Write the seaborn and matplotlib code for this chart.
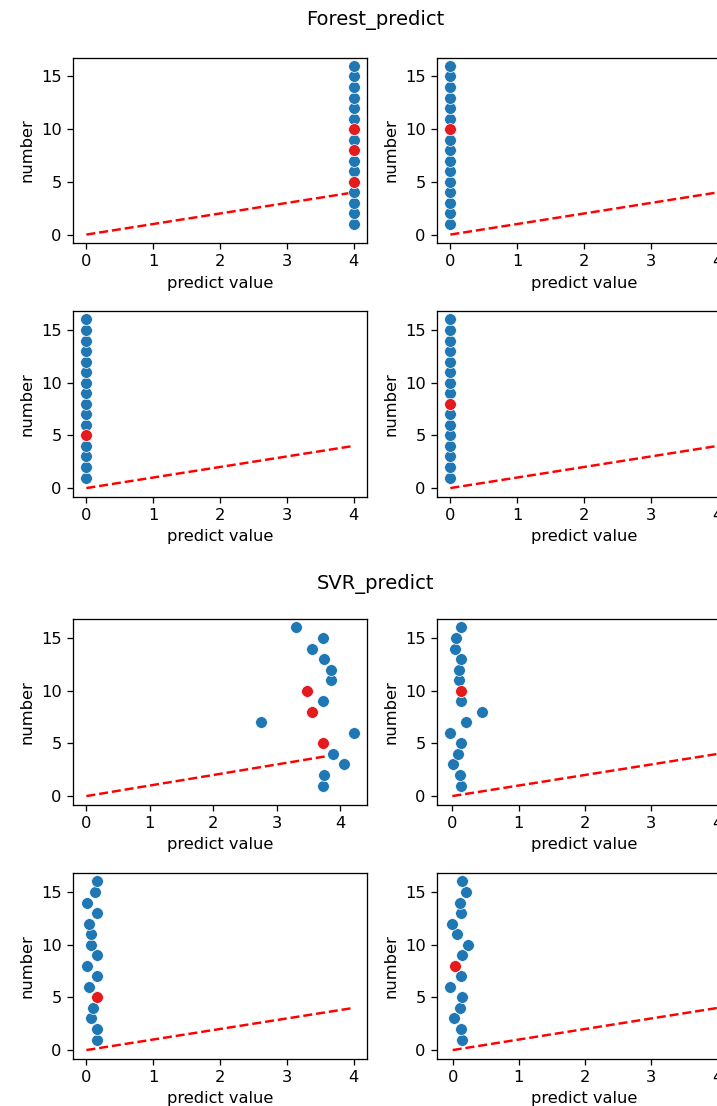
import numpy as np
import pandas as pd
import matplotlib
matplotlib.use("Agg")
import matplotlib.pyplot as plt
import seaborn as sns

numbers = list(range(1, 17))

forest_pred_1 = [4.0] * 16
forest_pred_2 = [0.0] * 16
forest_pred_3 = [0.0] * 16
forest_pred_4 = [0.0] * 16

svr_pred_1 = [3.73, 3.75, 4.06, 3.88, 3.73, 4.21, 2.75, 3.56,
              3.73, 3.48, 3.86, 3.86, 3.75, 3.56, 3.73, 3.31]
svr_pred_2 = [0.126, 0.116, 0.005, 0.08, 0.126, -0.03, 0.207, 0.449,
              0.126, 0.126, 0.096, 0.096, 0.13, 0.045, 0.06, 0.126]
svr_pred_3 = [0.16, 0.16, 0.065, 0.105, 0.16, 0.035, 0.16, 0.01,
              0.16, 0.065, 0.065, 0.035, 0.16, 0.01, 0.13, 0.16]
svr_pred_4 = [0.146, 0.131, 0.02, 0.111, 0.146, -0.035, 0.126, 0.04,
              0.146, 0.237, 0.06, -0.015, 0.126, 0.111, 0.207, 0.141]

highlight_1 = [5, 8, 10]
highlight_2 = [10]
highlight_3 = [5]
highlight_4 = [8]

line_x = [0, 4]
line_y = [0, 4]

titles = ["Forest_predict", "SVR_predict"]
groups = [
    [forest_pred_1, forest_pred_2, forest_pred_3, forest_pred_4],
    [svr_pred_1, svr_pred_2, svr_pred_3, svr_pred_4],
]
highlights = [highlight_1, highlight_2, highlight_3, highlight_4]

f = 1.17
plt.rcParams.update({
    "font.size": 10 * f,
    "axes.labelsize": 10 * f,
    "xtick.labelsize": 10 * f,
    "ytick.labelsize": 10 * f,
    "xtick.major.size": 3.5 * f,
    "ytick.major.size": 3.5 * f,
    "xtick.major.width": 0.8 * f,
    "ytick.major.width": 0.8 * f,
    "xtick.major.pad": 3.5 * f,
    "ytick.major.pad": 3.5 * f,
    "axes.linewidth": 0.8 * f,
    "axes.labelpad": 4 * f,
})

W, H = 717, 1106
fig = plt.figure(figsize=(W / 100, H / 100), dpi=100)

col_lefts = [73, 437]
row_tops = [57.5, 311, 619, 873]
aw, ah = 294, 185.5
title_y = [20, 584]

for g, (title, preds) in enumerate(zip(titles, groups)):
    fig.text(375 / W, 1 - title_y[g] / H, title, ha="center", va="center", fontsize=12 * f)
    for k in range(4):
        r = g * 2 + k // 2
        c = k % 2
        ax = fig.add_axes([col_lefts[c] / W, 1 - (row_tops[r] + ah) / H, aw / W, ah / H])
        df = pd.DataFrame({"pred": preds[k], "number": numbers})
        sns.lineplot(x=line_x, y=line_y, ax=ax, color="red", linestyle="--", linewidth=1.5 * f)
        sns.scatterplot(data=df, x="pred", y="number", ax=ax, color="#1f77b4", s=72,
                        edgecolor="white", linewidth=0.5, zorder=3)
        hl = df[df["number"].isin(highlights[k])]
        sns.scatterplot(data=hl, x="pred", y="number", ax=ax, color="#e41a1c", s=72,
                        edgecolor="white", linewidth=0.5, zorder=4)
        ax.set_xlabel("predict value")
        ax.set_ylabel("number")

fig.savefig("out.png", dpi=100)
